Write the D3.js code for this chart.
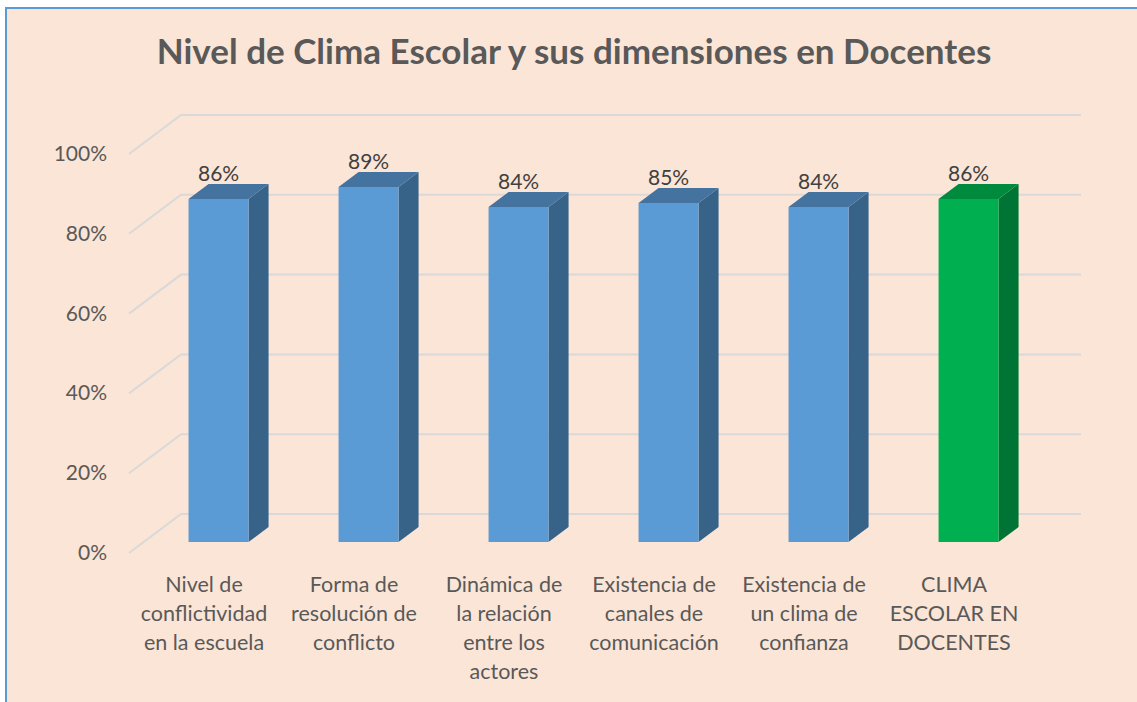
<!DOCTYPE html>
<html>
<head>
<meta charset="utf-8">
<script src="https://cdn.jsdelivr.net/npm/d3@7"></script>
<style>
  body { margin: 0; background: #ffffff; }
  text { font-family: Lato, "Noto Sans", sans-serif; }
</style>
</head>
<body>
<div id="chart"></div>
<script>
// chart data
var categories = ["Nivel de conflictividad en la escuela", "Forma de resolución de conflicto",
  "Dinámica de la relación entre los actores", "Existencia de canales de comunicación",
  "Existencia de un clima de confianza", "CLIMA ESCOLAR EN DOCENTES"];
var labelLines = [
  ["Nivel de", "conflictividad", "en la escuela"],
  ["Forma de", "resolución de", "conflicto"],
  ["Dinámica de", "la relación", "entre los", "actores"],
  ["Existencia de", "canales de", "comunicación"],
  ["Existencia de", "un clima de", "confianza"],
  ["CLIMA", "ESCOLAR EN", "DOCENTES"]
];
var values = [0.86, 0.89, 0.84, 0.85, 0.84, 0.86];
var yTicks = [0, 0.2, 0.4, 0.6, 0.8, 1.0];

var svgWidth = 1137;
var svgHeight = 702;

// oblique depth offset of the floor (front -> back wall)
var depthX = 52, depthY = -39;
function proj(x, y, z) { return [x + depthX * z, y + depthY * z]; }

var svg = d3.select("#chart").append("svg")
  .attr("width", svgWidth)
  .attr("height", svgHeight);

// chart area background with the blue border on top/left
svg.append("rect")
  .attr("x", 6).attr("y", 8)
  .attr("width", svgWidth + 20).attr("height", svgHeight + 20)
  .attr("fill", "#FBE5D6")
  .attr("stroke", "#5B9BD5")
  .attr("stroke-width", 2);

// title
svg.append("text")
  .attr("x", 574).attr("y", 64)
  .attr("text-anchor", "middle")
  .attr("font-size", "35px")
  .attr("font-weight", "bold")
  .attr("fill", "#595959")
  .text("Nivel de Clima Escolar y sus dimensiones en Docentes");

// scales on the front plane
var xScale = d3.scaleBand()
  .domain(categories)
  .range([129, 1029])
  .padding(0);

var yScale = d3.scaleLinear()
  .domain([0, 1])
  .range([553, 154]);

// gridlines: front-left diagonal + back wall line
var line = d3.line();
svg.append("g").selectAll("path")
  .data(yTicks)
  .enter()
  .append("path")
  .attr("d", function(t) {
    var y = yScale(t);
    return line([proj(129, y, 0), proj(129, y, 1), proj(1029, y, 1)]);
  })
  .attr("fill", "none")
  .attr("stroke", "#D9D9D9")
  .attr("stroke-width", 2);

// y-axis labels
svg.append("g").selectAll("text")
  .data(yTicks)
  .enter()
  .append("text")
  .attr("x", 107)
  .attr("y", function(t) { return yScale(t) + 7; })
  .attr("text-anchor", "end")
  .attr("font-size", "21px")
  .attr("fill", "#595959")
  .text(d3.format(".0%"));

// 3D bars
var z0 = 0.28, z1 = 0.665;
var barW = 60;
var colors = categories.map(function(c, i) {
  return i === categories.length - 1
    ? { front: "#00B050", top: "#008A3E", side: "#007434" }
    : { front: "#5B9BD5", top: "#4473A0", side: "#386389" };
});

var bars = svg.append("g").selectAll("g")
  .data(values)
  .enter()
  .append("g");

function corners(d, i) {
  var cx = xScale(categories[i]) + xScale.bandwidth() / 2;
  var xl = cx - barW / 2, xr = cx + barW / 2;
  var yb = yScale(0), yt = yScale(d);
  return { xl: xl, xr: xr, yb: yb, yt: yt };
}

// side face
bars.append("path")
  .attr("d", function(d, i) {
    var c = corners(d, i);
    return line([proj(c.xr, c.yt, z0), proj(c.xr, c.yt, z1), proj(c.xr, c.yb, z1), proj(c.xr, c.yb, z0)]) + "Z";
  })
  .attr("fill", function(d, i) { return colors[i].side; });

// top face
bars.append("path")
  .attr("d", function(d, i) {
    var c = corners(d, i);
    return line([proj(c.xl, c.yt, z0), proj(c.xl, c.yt, z1), proj(c.xr, c.yt, z1), proj(c.xr, c.yt, z0)]) + "Z";
  })
  .attr("fill", function(d, i) { return colors[i].top; });

// front face
bars.append("path")
  .attr("d", function(d, i) {
    var c = corners(d, i);
    return line([proj(c.xl, c.yt, z0), proj(c.xr, c.yt, z0), proj(c.xr, c.yb, z0), proj(c.xl, c.yb, z0)]) + "Z";
  })
  .attr("fill", function(d, i) { return colors[i].front; });

// data labels
bars.append("text")
  .attr("x", function(d, i) {
    var c = corners(d, i);
    return proj((c.xl + c.xr) / 2, c.yt, z0)[0];
  })
  .attr("y", function(d, i) {
    var c = corners(d, i);
    return proj(c.xl, c.yt, z1)[1] - 3;
  })
  .attr("text-anchor", "middle")
  .attr("font-size", "21px")
  .attr("fill", "#404040")
  .text(d3.format(".0%"));

// category labels
var catLabels = svg.append("g").selectAll("text")
  .data(labelLines)
  .enter()
  .append("text")
  .attr("text-anchor", "middle")
  .attr("font-size", "21.5px")
  .attr("fill", "#595959")
  .attr("transform", function(d, i) {
    var cx = xScale(categories[i]) + xScale.bandwidth() / 2;
    return "translate(" + cx + ",592)";
  });

catLabels.selectAll("tspan")
  .data(function(d) { return d; })
  .enter()
  .append("tspan")
  .attr("x", 0)
  .attr("dy", function(d, j) { return j === 0 ? 0 : 29; })
  .text(function(d) { return d; });
</script>
</body>
</html>
